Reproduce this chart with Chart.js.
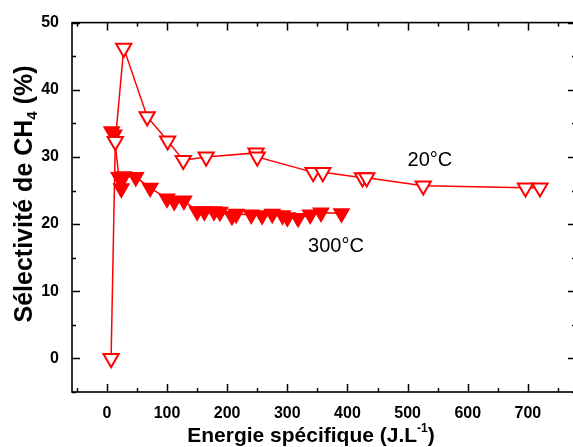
<!DOCTYPE html>
<html><head><meta charset="utf-8">
<script src="https://cdn.jsdelivr.net/npm/chart.js@4/dist/chart.umd.min.js"></script>
<style>html,body{margin:0;padding:0;background:#fff;overflow:hidden}#wrap{width:573px;height:447px;overflow:hidden;position:relative}canvas{display:block}</style>
</head><body><div id="wrap"><canvas id="c" width="580" height="447"></canvas></div>
<script>
// ---- data ----
const energy20 = [7, 14, 28, 67, 101, 127, 165, 248, 250, 343, 359, 425, 432, 526, 696, 720];
const select20 = [0, 32.3, 46.2, 36.0, 32.4, 29.5, 30.0, 30.6, 30.0, 27.7, 27.7, 26.9, 26.9, 25.7, 25.4, 25.4];
const energy300 = [8, 12, 20, 24, 28, 48, 72, 100, 112, 128, 150, 162, 178, 188, 208, 215, 240, 258, 275, 292, 300, 318, 338, 356, 390];
const select300 = [33.8, 33.3, 27.0, 25.3, 27.1, 27.0, 25.4, 23.8, 23.4, 23.5, 21.9, 21.9, 21.9, 21.8, 21.2, 21.5, 21.4, 21.3, 21.5, 21.3, 21.0, 20.9, 21.4, 21.7, 21.6];
const seriesNames = ['20°C', '300°C'];
const xTicks = [0, 100, 200, 300, 400, 500, 600, 700];
const yTicks = [0, 10, 20, 30, 40, 50];
const xMinor = [-50, 50, 150, 250, 350, 450, 550, 650, 750];
const yMinor = [-5, 5, 15, 25, 35, 45];
const xRange = [-58, 780];
const yRange = [-5, 50];
const xTitle = ['Energie spécifique (J.L', '-1', ')'];
const yTitle = ['Sélectivité de CH', '4', ' (%)'];
const labelPos = [[537, 29.4], [381, 16.6]];

const RED = '#ff0000';
const FONT = '"Liberation Sans", Arial, sans-serif';

const frame = {
  id: 'frame',
  beforeDatasetsDraw(chart) {
    const {ctx, chartArea: a, scales: {x, y}} = chart;
    ctx.save();
    ctx.strokeStyle = '#000';
    ctx.lineWidth = 1.6;
    ctx.strokeRect(a.left, a.top, a.right - a.left, a.bottom - a.top);
    ctx.lineWidth = 1.5;
    const seg = (x1, y1, x2, y2) => { ctx.beginPath(); ctx.moveTo(x1, y1); ctx.lineTo(x2, y2); ctx.stroke(); };
    xTicks.forEach(v => { const p = Math.round(x.getPixelForValue(v)) + 0.5; seg(p, a.bottom, p, a.bottom - 8); seg(p, a.top, p, a.top + 8); });
    xMinor.forEach(v => { const p = Math.round(x.getPixelForValue(v)) + 0.5; seg(p, a.bottom, p, a.bottom - 4); seg(p, a.top, p, a.top + 4); });
    yTicks.forEach(v => { const p = Math.round(y.getPixelForValue(v)) + 0.5; seg(a.left, p, a.left + 8, p); seg(a.right, p, a.right - 8, p); });
    yMinor.forEach(v => { const p = Math.round(y.getPixelForValue(v)) + 0.5; seg(a.left, p, a.left + 4, p); seg(a.right, p, a.right - 4, p); });
    ctx.restore();
  },
  afterDraw(chart) {
    const {ctx, chartArea: a, scales: {x, y}} = chart;
    ctx.save();
    ctx.fillStyle = '#000';
    ctx.font = '20px ' + FONT;
    ctx.textAlign = 'center';
    ctx.textBaseline = 'middle';
    labelPos.forEach((p, i) => ctx.fillText(seriesNames[i], x.getPixelForValue(p[0]), y.getPixelForValue(p[1])));
    const drawRich = (parts, big, small, shift) => {
      ctx.textAlign = 'left';
      ctx.textBaseline = 'alphabetic';
      const fonts = ['bold ' + big + 'px ' + FONT, 'bold ' + small + 'px ' + FONT, 'bold ' + big + 'px ' + FONT];
      let w = 0;
      const ws = parts.map((t, i) => { ctx.font = fonts[i]; const m = ctx.measureText(t).width; w += m; return m; });
      let cx = -w / 2;
      parts.forEach((t, i) => { ctx.font = fonts[i]; ctx.fillText(t, cx, i === 1 ? shift : 0); cx += ws[i]; });
    };
    ctx.save();
    ctx.translate(311, 442);
    drawRich(xTitle, 21, 12, -10);
    ctx.restore();
    ctx.save();
    ctx.translate(32, 194);
    ctx.rotate(-Math.PI / 2);
    drawRich(yTitle, 25, 15, 5);
    ctx.restore();
    ctx.restore();
  }
};

const mk = (xs, ys) => xs.map((v, i) => ({x: v, y: ys[i]}));

new Chart(document.getElementById('c'), {
  type: 'scatter',
  data: {
    datasets: [
      {label: seriesNames[0], data: mk(energy20, select20), showLine: true, borderColor: RED, borderWidth: 1.5,
       pointStyle: 'triangle', pointRotation: 180, pointRadius: 8.8, pointBorderWidth: 2,
       pointBorderColor: RED, pointBackgroundColor: '#fff', backgroundColor: '#fff'},
      {label: seriesNames[1], data: mk(energy300, select300), showLine: true, borderColor: RED, borderWidth: 1.5,
       pointStyle: 'triangle', pointRotation: 180, pointRadius: 8.8, pointBorderWidth: 1.5,
       pointBorderColor: RED, pointBackgroundColor: RED, backgroundColor: RED}
    ]
  },
  options: {
    responsive: false,
    animation: false,
    devicePixelRatio: 1,
    layout: {padding: {left: 0, right: 4, top: 22, bottom: 0}, autoPadding: false},
    plugins: {legend: {display: false}, tooltip: {enabled: false}},
    scales: {
      x: {type: 'linear', min: xRange[0], max: xRange[1],
          afterBuildTicks: s => { s.ticks = xTicks.map(v => ({value: v})); },
          afterFit: s => { s.height = 55; },
          grid: {display: false, drawTicks: false}, border: {display: false},
          ticks: {font: {family: FONT, size: 16, weight: 'bold'}, color: '#000', padding: 12, maxRotation: 0}},
      y: {type: 'linear', min: yRange[0], max: yRange[1],
          afterBuildTicks: s => { s.ticks = yTicks.map(v => ({value: v})); },
          afterFit: s => { s.width = 72; },
          grid: {display: false, drawTicks: false}, border: {display: false},
          ticks: {font: {family: FONT, size: 16, weight: 'bold'}, color: '#000', padding: 13}}
    }
  },
  plugins: [frame]
});
</script>
</body></html>
